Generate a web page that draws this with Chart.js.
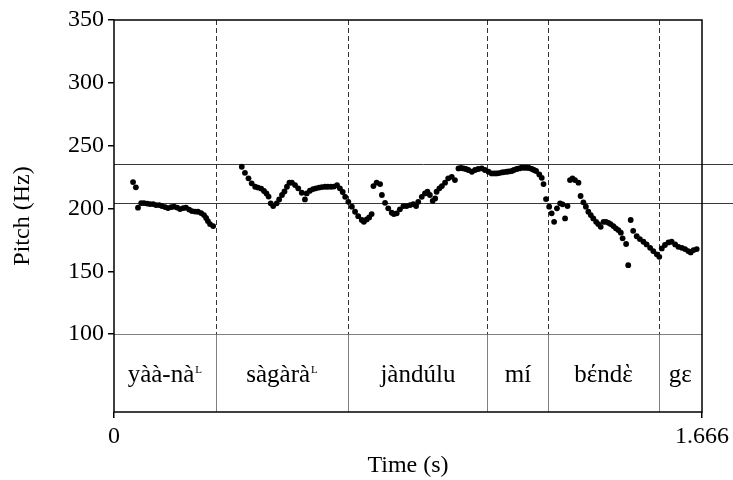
<!DOCTYPE html>
<html lang="en">

<head>
  <meta charset="UTF-8">
  <title>Pitch</title>
  <!-- Chart.js -->
  <script src="https://cdn.jsdelivr.net/npm/chart.js"></script>
  <style>
    body { margin: 0; background: #fff; }
  </style>
</head>

<body>
  <canvas id="graf_pitch" width="733" height="480"></canvas>
</body>

</html>
<script>
  // pitch track: time (s) and pitch (Hz)
  var times = [
    0.054, 0.062, 0.068, 0.077, 0.085, 0.094, 0.102, 0.111, 0.119, 0.128, 0.136, 0.145, 0.153, 0.162, 0.170,
    0.179, 0.187, 0.196, 0.204, 0.213, 0.221, 0.230, 0.238, 0.247, 0.255, 0.261, 0.266, 0.272, 0.281,
    0.362, 0.371, 0.381, 0.390, 0.400, 0.408, 0.417, 0.425, 0.432, 0.438, 0.444, 0.451, 0.461, 0.468, 0.476,
    0.483, 0.490, 0.497, 0.504, 0.513, 0.522, 0.532, 0.541, 0.546, 0.555, 0.564, 0.572, 0.581, 0.589, 0.598,
    0.606, 0.615, 0.623, 0.632, 0.640, 0.648, 0.655, 0.664,
    0.674, 0.683, 0.692, 0.702, 0.708, 0.716, 0.723, 0.730, 0.735, 0.744, 0.754, 0.759, 0.768, 0.777, 0.787,
    0.793, 0.801, 0.810, 0.820, 0.829, 0.839, 0.848, 0.856, 0.862, 0.872, 0.881, 0.888, 0.895, 0.903, 0.910,
    0.914, 0.922, 0.929, 0.938, 0.947, 0.957, 0.966, 0.976, 0.983, 0.990, 0.997, 1.004, 1.014, 1.023, 1.032,
    1.042, 1.051,
    1.061, 1.070, 1.077, 1.084, 1.091, 1.099, 1.105, 1.113, 1.119, 1.127, 1.133, 1.141, 1.148, 1.155, 1.162,
    1.169, 1.176, 1.184, 1.190, 1.196, 1.205, 1.212, 1.217,
    1.224, 1.233, 1.240, 1.247, 1.255, 1.264, 1.271, 1.278, 1.285, 1.292, 1.299, 1.306, 1.316, 1.322, 1.330,
    1.337, 1.344, 1.351, 1.358, 1.366, 1.372, 1.379, 1.387, 1.394, 1.401, 1.407, 1.415, 1.422, 1.429, 1.436,
    1.441, 1.451, 1.457, 1.464, 1.471, 1.481, 1.490, 1.500, 1.509, 1.519, 1.528, 1.538, 1.545,
    1.552, 1.561, 1.571, 1.580, 1.590, 1.599, 1.609, 1.618, 1.627, 1.634, 1.642, 1.651
  ];
  var pitch = [
    221.0, 216.8, 200.6, 204.3, 204.3, 203.9, 203.5, 203.5, 202.7, 202.7, 201.9, 201.1, 200.3, 201.1, 201.4,
    200.7, 199.5, 200.3, 200.6, 199.1, 197.9, 197.5, 197.4, 196.3, 194.7, 192.4, 190.0, 187.6, 186.0,
    233.2, 228.4, 224.0, 220.0, 217.3, 216.6, 215.8, 213.9, 211.9, 209.5, 204.1, 201.9, 204.1, 207.2, 210.7,
    213.5, 217.3, 220.5, 220.5, 218.6, 216.0, 212.5, 207.2, 212.0, 214.1, 215.4, 216.0, 216.6, 217.0, 217.3,
    217.3, 217.3, 217.4, 218.6, 216.0, 213.1, 209.3, 205.3,
    201.4, 197.4, 193.9, 190.8, 189.4, 191.3, 192.9, 195.5, 217.8, 220.5, 219.4, 210.7, 204.5, 200.1, 196.6,
    195.5, 196.1, 199.3, 201.9, 201.9, 202.7, 203.5, 201.9, 205.3, 209.3, 212.0, 213.3, 210.7, 206.1, 208.0,
    213.3, 216.0, 217.8, 220.5, 224.0, 225.2, 222.6, 231.9, 232.2, 231.9, 231.4, 230.6, 229.2, 230.6, 231.4,
    231.9, 230.6,
    229.2, 227.9, 227.9, 227.9, 228.2, 228.7, 229.0, 229.2, 229.5, 229.8, 230.6, 231.4, 231.9, 232.4, 232.4,
    232.4, 232.2, 231.4, 230.6, 229.8, 227.1, 224.4, 219.4,
    207.5, 201.4, 196.1, 189.4, 200.1, 204.1, 203.3, 192.1, 201.9, 222.6, 224.0, 222.6, 220.5, 209.9, 204.9,
    201.4, 197.4, 194.7, 192.1, 189.4, 187.6, 185.4, 189.4, 189.4, 188.6, 187.6, 186.0, 184.2, 182.8, 180.7,
    176.2, 171.7, 154.9, 190.8, 182.2, 177.9, 175.6, 173.5, 171.4, 168.7, 166.1, 163.5, 161.5,
    168.2, 170.9, 173.0, 173.5, 171.4, 169.5, 168.7, 167.7, 166.1, 165.0, 166.9, 167.7
  ];

  // text grid tier: boundaries (s) and the word in each interval
  var bounds = [0, 0.288, 0.664, 1.058, 1.231, 1.543, 1.666];
  var words = ['yàà-nà', 'sàgàrà', 'jàndúlu', 'mí', 'bέndὲ', 'gε'];
  var superscripts = ['L', 'L', '', '', '', ''];

  // the two horizontal reference lines (Hz)
  var refLines = [235, 204.5];

  // tick labels
  var yTicks = [100, 150, 200, 250, 300, 350];
  var xTicks = [0, 1.666];

  var serif = "'Liberation Serif', 'Times New Roman', serif";

  // builds the points for the scatter
  var points = [];
  for (var i = 0; i < times.length; i++) {
    points.push({ x: times[i], y: pitch[i] });
  }

  // draws the tier, the boundaries and the reference lines
  var tierPlugin = {
    id: 'tier',
    beforeDatasetsDraw: function (chart) {
      var ctx = chart.ctx;
      var area = chart.chartArea;
      var sx = chart.scales.x;
      var sy = chart.scales.y;
      var y100 = Math.round(sy.getPixelForValue(100)) + 0.5;

      ctx.save();
      ctx.lineWidth = 1;

      // reference lines, they run out to the edge of the picture
      ctx.strokeStyle = '#3a3a3a';
      for (var i = 0; i < refLines.length; i++) {
        var py = Math.round(sy.getPixelForValue(refLines[i])) + 0.5;
        ctx.beginPath();
        ctx.moveTo(area.left, py);
        ctx.lineTo(chart.width, py);
        ctx.stroke();
      }

      // tier top
      ctx.strokeStyle = '#808080';
      ctx.beginPath();
      ctx.moveTo(area.left, y100);
      ctx.lineTo(area.right, y100);
      ctx.stroke();

      // boundaries: dashed over the pitch, solid in the tier
      for (var j = 1; j < bounds.length - 1; j++) {
        var px = Math.round(sx.getPixelForValue(bounds[j])) + 0.5;
        ctx.setLineDash([5, 3]);
        ctx.strokeStyle = '#333';
        ctx.beginPath();
        ctx.moveTo(px, area.top);
        ctx.lineTo(px, y100);
        ctx.stroke();
        ctx.setLineDash([]);
        ctx.strokeStyle = '#808080';
        ctx.beginPath();
        ctx.moveTo(px, y100);
        ctx.lineTo(px, area.bottom);
        ctx.stroke();
      }

      // words
      var base = y100 + (area.bottom - y100) * 0.61;
      ctx.fillStyle = '#000';
      ctx.textBaseline = 'alphabetic';
      ctx.textAlign = 'left';
      for (var k = 0; k < words.length; k++) {
        var mid = (sx.getPixelForValue(bounds[k]) + sx.getPixelForValue(bounds[k + 1])) / 2;
        ctx.font = '25px ' + serif;
        var w1 = ctx.measureText(words[k]).width;
        ctx.font = '11px ' + serif;
        var w2 = superscripts[k] ? ctx.measureText(superscripts[k]).width + 1 : 0;
        var x0 = mid - (w1 + w2) / 2;
        ctx.font = '25px ' + serif;
        ctx.fillText(words[k], x0, base);
        if (superscripts[k]) {
          ctx.font = '11px ' + serif;
          ctx.fillText(superscripts[k], x0 + w1 + 1, base - 9);
        }
      }
      ctx.restore();
    },
    afterDraw: function (chart) {
      // box around the plot
      var ctx = chart.ctx;
      var area = chart.chartArea;
      ctx.save();
      ctx.strokeStyle = '#000';
      ctx.lineWidth = 1.5;
      ctx.strokeRect(area.left, area.top, area.right - area.left, area.bottom - area.top);
      ctx.restore();
    }
  };

  var ctx = document.getElementById('graf_pitch').getContext('2d');
  var myChart = new Chart(ctx, {
    type: 'scatter',
    data: {
      datasets: [{
        label: 'Pitch',
        data: points,
        backgroundColor: '#000',
        borderWidth: 0,
        pointRadius: 2.9,
        showLine: false
      }]
    },
    options: {
      responsive: false,
      animation: false,
      layout: { padding: { top: 20, right: 31, left: 0, bottom: 0 } },
      plugins: {
        legend: { display: false },
        tooltip: { enabled: false }
      },
      scales: {
        x: {
          type: 'linear',
          min: 0,
          max: 1.666,
          afterBuildTicks: function (scale) {
            scale.ticks = xTicks.map(function (v) { return { value: v }; });
          },
          afterFit: function (scale) { scale.height = 68; },
          grid: { drawOnChartArea: false, drawTicks: true, tickLength: 6, color: '#000', lineWidth: 1.5 },
          border: { display: false },
          ticks: {
            autoSkip: false,
            maxRotation: 0,
            padding: 4,
            color: '#000',
            font: { family: serif, size: 24 },
            callback: function (v) { return v === 0 ? '0' : v.toFixed(3); }
          },
          title: {
            display: true,
            text: 'Time (s)',
            color: '#000',
            font: { family: serif, size: 24 },
            padding: { top: 0, bottom: 0 }
          }
        },
        y: {
          min: 38,
          max: 350,
          afterBuildTicks: function (scale) {
            scale.ticks = yTicks.map(function (v) { return { value: v }; });
          },
          afterFit: function (scale) { scale.width = 114; },
          grid: { drawOnChartArea: false, drawTicks: true, tickLength: 6, color: '#000', lineWidth: 1.5 },
          border: { display: false },
          ticks: {
            padding: 4,
            color: '#000',
            font: { family: serif, size: 24 }
          },
          title: {
            display: true,
            text: 'Pitch (Hz)',
            color: '#000',
            font: { family: serif, size: 24 },
            padding: { top: 8, bottom: 0 }
          }
        }
      }
    },
    plugins: [tierPlugin]
  });
</script>
